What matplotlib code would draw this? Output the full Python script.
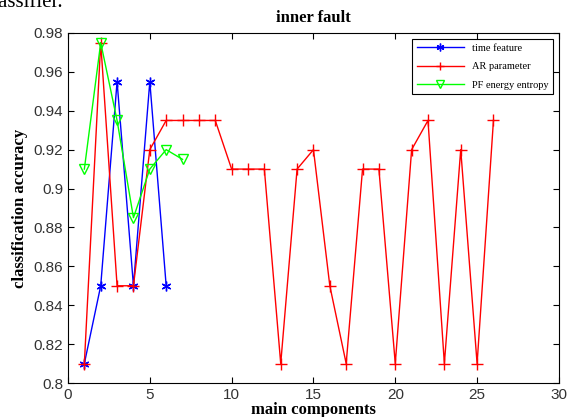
import matplotlib
matplotlib.use("Agg")
import matplotlib.pyplot as plt

# main components (x) and classification accuracy per feature set
time_x = [1, 2, 3, 4, 5, 6]
time_acc = [0.81, 0.85, 0.955, 0.85, 0.955, 0.85]

ar_x = list(range(1, 27))
ar_acc = [0.81, 0.975, 0.85, 0.85, 0.92, 0.935, 0.935, 0.935, 0.935, 0.91,
          0.91, 0.91, 0.81, 0.91, 0.92, 0.85, 0.81, 0.91, 0.91, 0.81,
          0.92, 0.935, 0.81, 0.92, 0.81, 0.935]

pf_x = [1, 2, 3, 4, 5, 6, 7]
pf_acc = [0.91, 0.975, 0.935, 0.885, 0.91, 0.92, 0.915]

yticks = [0.8, 0.82, 0.84, 0.86, 0.88, 0.9, 0.92, 0.94, 0.96, 0.98]
ytick_labels = ['0.8', '0.82', '0.84', '0.86', '0.88', '0.9', '0.92', '0.94', '0.96', '0.98']
xticks = [0, 5, 10, 15, 20, 25, 30]

serif = ['Liberation Serif', 'DejaVu Serif']
sans = ['Liberation Sans', 'DejaVu Sans']

fig = plt.figure(figsize=(5.68, 4.17), dpi=100)
ax = fig.add_axes([0.1197, 0.0815, 0.8643, 0.8395])

# MATLAB-style asterisk marker
ax.plot(time_x, time_acc, color='blue', marker=(6, 2, 0), markersize=7,
        markeredgewidth=1, linewidth=1, label='time feature')
ax.plot(ar_x, ar_acc, color='red', marker='+', markersize=8, markeredgewidth=1,
        linewidth=1, label='AR parameter')
ax.plot(pf_x, pf_acc, color='#00ff00', marker='v', markersize=7, linewidth=1,
        markerfacecolor='none', label='PF energy entropy')

ax.set_xlim(0, 30)
ax.set_ylim(0.8, 0.98)
ax.set_xticks(xticks)
ax.set_yticks(yticks)
ax.set_yticklabels(ytick_labels)
ax.tick_params(direction='in', top=True, right=True, labelsize=11, length=4)
for lbl in ax.get_xticklabels() + ax.get_yticklabels():
    lbl.set_family(sans)
    lbl.set_color('#333333')

ax.set_title('inner fault', family=serif, fontweight='bold', fontsize=12, pad=8)
ax.set_xlabel('main components', family=serif, fontweight='bold', fontsize=12, labelpad=0)
ax.set_ylabel('classification accuracy', family=serif, fontweight='bold', fontsize=12, labelpad=4)

leg = ax.legend(loc='upper right', prop={'family': serif, 'size': 7.5},
                fancybox=False, edgecolor='black', framealpha=1,
                borderaxespad=0.6, handlelength=4.5, labelspacing=0.9,
                markerscale=0.8)
leg.get_frame().set_linewidth(0.8)

fig.text(-0.03, 0.995, 'classifier.', family=serif, fontsize=15, va='center')

fig.savefig('out.png', dpi=100)
